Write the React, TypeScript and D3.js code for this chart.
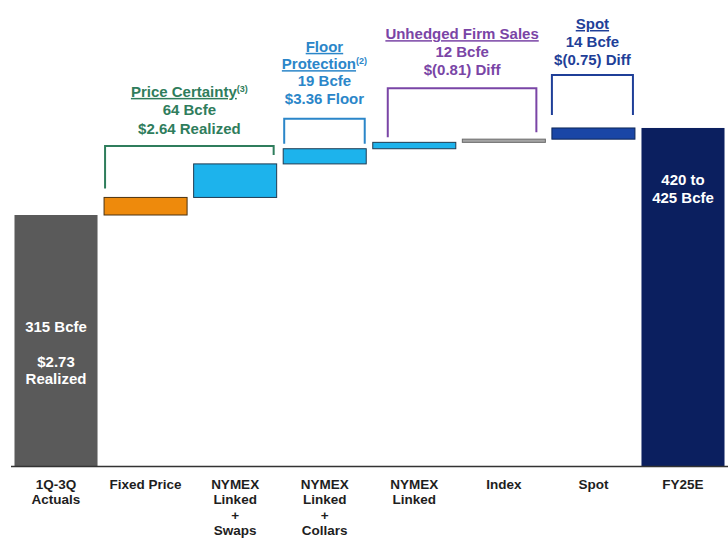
import React from "react";
import { scaleBand, scaleLinear } from "d3";

// waterfall steps, Bcfe
const categories = [
  "1Q-3Q Actuals",
  "Fixed Price",
  "NYMEX Linked + Swaps",
  "NYMEX Linked + Collars",
  "NYMEX Linked",
  "Index",
  "Spot",
  "FY25E"
];
const tickLabels = [
  ["1Q-3Q", "Actuals"],
  ["Fixed Price"],
  ["NYMEX", "Linked", "+", "Swaps"],
  ["NYMEX", "Linked", "+", "Collars"],
  ["NYMEX", "Linked"],
  ["Index"],
  ["Spot"],
  ["FY25E"]
];
const volumes = [315, 22, 42, 19, 8, 4, 14, 424];
const isTotal = [true, false, false, false, false, false, false, true];
const barLabels = [["315 Bcfe", "", "$2.73", "Realized"], [], [], [], [], [], [], ["420 to", "425 Bcfe"]];

// bracket groups above the steps
const groupSpans = [
  ["Fixed Price", "NYMEX Linked + Swaps"],
  ["NYMEX Linked + Collars", "NYMEX Linked + Collars"],
  ["NYMEX Linked", "Index"],
  ["Spot", "Spot"]
];
const groupTitles = [["Price Certainty"], ["Floor", "Protection"], ["Unhedged Firm Sales"], ["Spot"]];
const groupNotes = ["(3)", "(2)", "", ""];
const groupDetails = [
  ["64 Bcfe", "$2.64 Realized"],
  ["19 Bcfe", "$3.36 Floor"],
  ["12 Bcfe", "$(0.81) Diff"],
  ["14 Bcfe", "$(0.75) Diff"]
];

// styles
const barFill = ["#5a5a5a", "#ee8a0c", "#1db3ec", "#1db3ec", "#1db3ec", "#a4a4a4", "#1a46a6", "#0b1f5f"];
const barStroke = ["none", "#4a3312", "#1f3b52", "#1f3b52", "#1f3b52", "#6a6a6a", "#0d2658", "none"];
const barLabelOffset = [116.5, 0, 0, 0, 0, 0, 0, 57.5];
const groupStyle = [
  { color: "#2f7d5c", insetL: 1, insetR: 3, rise: 18, gapL: 9, gapR: 9, textGap: 12, lineH: 18.5 },
  { color: "#2b86c9", insetL: 1, insetR: 1.5, rise: 30, gapL: 5, gapR: 5, textGap: 15, lineH: 17.3 },
  { color: "#7a45a6", insetL: 15, insetR: 9, rise: 51, gapL: 5, gapR: 7, textGap: 13, lineH: 18 },
  { color: "#1f3f98", insetL: 0, insetR: 2, rise: 53, gapL: 13, gapR: 13, textGap: 10, lineH: 18 }
];

const W = 728;
const H = 541;
const FONT = "'Liberation Sans', Arial, sans-serif";

export default function App() {
  const x = scaleBand<string>()
    .domain(categories)
    .range([11, 728])
    .paddingInner(0.073)
    .paddingOuter(0.039);
  const y = scaleLinear().domain([0, 315]).range([466.5, 215]);

  // running totals
  let run = 0;
  const steps = volumes.map((v, i) => {
    let lo, hi;
    if (isTotal[i]) {
      lo = 0;
      hi = v;
      run = v;
    } else {
      lo = run;
      hi = run + v;
      run = hi;
    }
    return { cat: categories[i], lo, hi, i };
  });
  const topOf = (cat: string) => y(steps[categories.indexOf(cat)].hi);

  return (
    <svg
      width={W}
      height={H}
      style={{ position: "absolute", left: 0, top: 0, background: "#fff" }}
      fontFamily={FONT}
      fontWeight="bold"
    >
      {steps.map(s => (
        <rect
          key={s.cat}
          x={x(s.cat)}
          y={y(s.hi)}
          width={x.bandwidth()}
          height={y(s.lo) - y(s.hi)}
          fill={barFill[s.i]}
          stroke={barStroke[s.i]}
          strokeWidth={1}
        />
      ))}

      {steps.map(s =>
        barLabels[s.i].map((t, k) => (
          <text
            key={s.cat + k}
            x={x(s.cat)! + x.bandwidth() / 2}
            y={y(s.hi) + barLabelOffset[s.i] + k * 17.5}
            textAnchor="middle"
            fill="#fff"
            fontSize={15}
          >
            {t}
          </text>
        ))
      )}

      <line x1={11} x2={728} y1={466.5} y2={466.5} stroke="#333" strokeWidth={1.6} />

      {tickLabels.map((lines, i) =>
        lines.map((t, k) => (
          <text
            key={categories[i] + k}
            x={x(categories[i])! + x.bandwidth() / 2}
            y={489 + k * 15.4}
            textAnchor="middle"
            fill="#1e1e1e"
            fontSize={13.5}
          >
            {t}
          </text>
        ))
      )}

      {groupSpans.map(([from, to], g) => {
        const st = groupStyle[g];
        const x0 = x(from)! + st.insetL;
        const x1 = x(to)! + x.bandwidth() - st.insetR;
        const spanCats = categories.slice(categories.indexOf(from), categories.indexOf(to) + 1);
        const top = Math.min(...spanCats.map(topOf)) - st.rise;
        const lines = [...groupTitles[g], ...groupDetails[g]];
        const nT = groupTitles[g].length;
        const last = top - st.textGap;
        const cx = (x0 + x1) / 2;
        return (
          <g key={g} fill={st.color}>
            <path
              d={`M${x0},${topOf(from) - st.gapL}V${top}H${x1}V${topOf(to) - st.gapR}`}
              fill="none"
              stroke={st.color}
              strokeWidth={2}
            />
            {lines.map((t, k) => (
              <text key={k} x={cx} y={last - (lines.length - 1 - k) * st.lineH} textAnchor="middle" fontSize={15}>
                {k < nT ? (
                  <>
                    <tspan style={{ textDecoration: "underline" }}>{t}</tspan>
                    {k === nT - 1 && groupNotes[g] ? (
                      <tspan fontSize={9} dy={-5}>
                        {groupNotes[g]}
                      </tspan>
                    ) : null}
                  </>
                ) : (
                  t
                )}
              </text>
            ))}
          </g>
        );
      })}
    </svg>
  );
}
